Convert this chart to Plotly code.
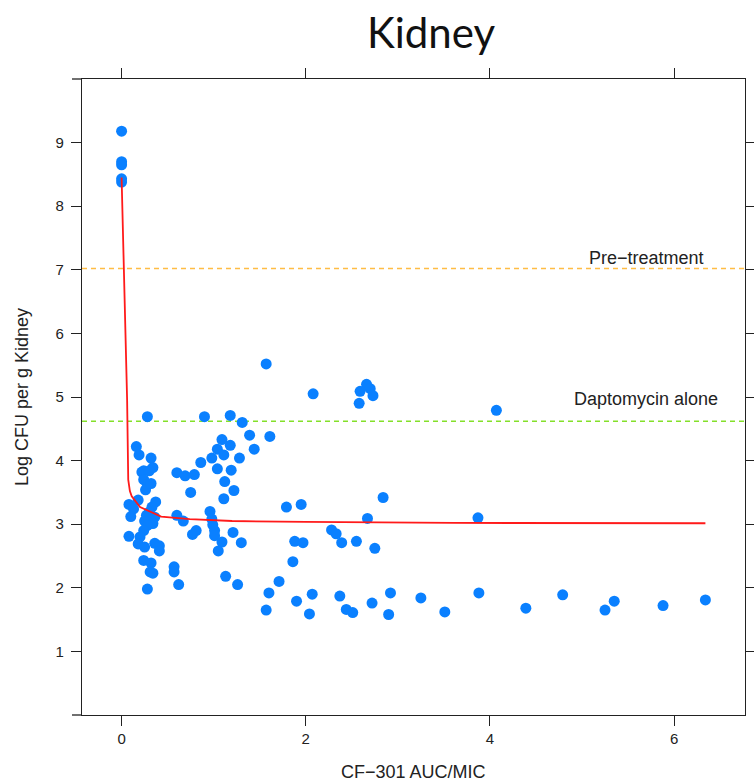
import plotly.graph_objects as go

# Observed kidney burden vs CF-301 exposure
auc_mic = [
    0, 0, 0, 0, 0,
    0.28, 0.90, 1.18, 1.31, 1.39, 1.61, 1.44, 1.09, 1.18, 1.04, 1.11, 0.98, 1.28,
    0.86, 1.04, 1.19, 0.60, 0.69, 0.79, 1.12, 0.75, 1.22, 1.11,
    0.16, 0.19, 0.32, 0.34, 0.24, 0.22, 0.30, 0.24, 0.28, 0.26, 0.32,
    0.18, 0.08, 0.13, 0.10, 0.37, 0.33, 0.30, 0.27, 0.36, 0.31, 0.25, 0.34, 0.28,
    0.24, 0.08, 0.20, 0.18, 0.25, 0.36, 0.41, 0.41, 0.24, 0.32, 0.31, 0.34, 0.28,
    0.57, 0.57, 0.62,
    0.60, 0.67, 0.96, 0.98, 0.99, 1.01, 1.01, 0.77, 0.81, 1.09, 1.05, 1.21, 1.30,
    1.13, 1.26,
    1.79, 1.71, 1.60, 1.57, 1.57, 2.08, 2.66, 2.70, 2.73, 2.59, 2.58, 1.95, 2.84,
    2.67, 2.28, 2.33, 2.39, 2.55, 2.75, 1.88, 1.97, 1.86, 1.90, 2.07, 2.04, 2.37,
    2.44, 2.51, 2.72, 2.92, 2.90, 3.25, 3.51, 4.07, 3.87, 3.88, 4.39, 4.79, 5.25,
    5.35, 5.88, 6.34,
]
log_cfu = [
    9.18, 8.70, 8.65, 8.43, 8.38,
    4.69, 4.69, 4.71, 4.60, 4.40, 4.38, 4.18, 4.33, 4.24, 4.18, 4.09, 4.04, 4.04,
    3.97, 3.87, 3.85, 3.81, 3.76, 3.78, 3.67, 3.50, 3.53, 3.40,
    4.22, 4.09, 4.04, 3.89, 3.84, 3.82, 3.84, 3.70, 3.63, 3.54, 3.64,
    3.38, 3.31, 3.24, 3.12, 3.35, 3.27, 3.19, 3.14, 3.11, 3.07, 3.05, 3.01, 2.98,
    2.90, 2.81, 2.80, 2.69, 2.64, 2.70, 2.66, 2.58, 2.43, 2.39, 2.25, 2.23, 1.98,
    2.33, 2.25, 2.05,
    3.14, 3.05, 3.20, 3.08, 2.99, 2.90, 2.82, 2.84, 2.90, 2.72, 2.58, 2.87, 2.71,
    2.18, 2.05,
    3.27, 2.10, 1.92, 1.65, 5.52, 5.05, 5.20, 5.13, 5.02, 5.09, 4.90, 3.31, 3.42,
    3.09, 2.91, 2.85, 2.71, 2.73, 2.62, 2.73, 2.71, 2.41, 1.79, 1.90, 1.59, 1.87,
    1.66, 1.61, 1.76, 1.92, 1.58, 1.84, 1.62, 4.79, 3.10, 1.92, 1.68, 1.89, 1.65,
    1.79, 1.72, 1.81,
]

# Fitted exposure-response curve
fit_x = [0, 0.03, 0.06, 0.072, 0.09, 0.11, 0.2, 0.43, 0.74, 1.2, 2.0, 3.6, 6.34]
fit_y = [8.45, 6.7, 4.95, 3.7, 3.52, 3.44, 3.27, 3.12, 3.08, 3.05, 3.035, 3.02, 3.015]

# Reference levels and their text labels
ref_labels = ["Pre\u2212treatment", "Daptomycin alone"]
ref_levels = [7.02, 4.62]
ref_label_y = [7.18, 4.97]
ref_colors = ["#FFBD45", "#84E02A"]
ref_label_x = 5.70

x_ticks = [0, 2, 4, 6]
y_ticks = [1, 2, 3, 4, 5, 6, 7, 8, 9]
x_range = [-0.43, 6.77]
y_range = [0, 10]

INK = "#222222"
SANS = "Liberation Sans, Arial"

fig = go.Figure()

for lvl, col in zip(ref_levels, ref_colors):
    fig.add_trace(go.Scatter(
        x=x_range, y=[lvl, lvl], mode="lines",
        line=dict(color=col, width=1.5, dash="5px,4px"),
        hoverinfo="skip", showlegend=False,
    ))

fig.add_trace(go.Scatter(
    x=auc_mic, y=log_cfu, mode="markers",
    marker=dict(color="#0A80FF", size=11, line=dict(width=0)),
    showlegend=False,
))

fig.add_trace(go.Scatter(
    x=fit_x, y=fit_y, mode="lines",
    line=dict(color="#FF1A1A", width=1.8),
    showlegend=False,
))

for lbl, ly in zip(ref_labels, ref_label_y):
    fig.add_annotation(
        x=ref_label_x, y=ly, text=lbl, showarrow=False,
        xanchor="center", yanchor="middle",
        font=dict(family=SANS, size=18, color=INK),
    )

# axis titles
fig.add_annotation(
    xref="paper", yref="paper", x=0.5, y=-57 / 636, text="CF\u2212301 AUC/MIC",
    showarrow=False, xanchor="center", yanchor="middle",
    font=dict(family=SANS, size=18, color=INK),
)
fig.add_annotation(
    xref="paper", yref="paper", x=-60 / 663, y=0.5, text="Log CFU per g Kidney",
    showarrow=False, xanchor="center", yanchor="middle", textangle=-90,
    font=dict(family=SANS, size=18, color=INK),
)

axis_common = dict(
    showgrid=False, zeroline=False, showline=True, linecolor=INK,
    linewidth=1.3, mirror="ticks", ticks="outside", ticklen=10,
    tickwidth=1.3, tickcolor=INK, automargin=False,
    tickfont=dict(family=SANS, size=15, color=INK),
)

fig.update_xaxes(range=x_range, tickvals=x_ticks, **axis_common)
fig.update_yaxes(range=y_range, tickvals=y_ticks, ticklabelstandoff=4, **axis_common)

# short extensions of the horizontal frame lines to the left of the panel
for yp in [0, 1]:
    fig.add_shape(type="line", xref="paper", yref="paper",
                  x0=-10 / 663, x1=0, y0=yp, y1=yp,
                  line=dict(color=INK, width=1.3))

fig.update_layout(
    width=754, height=783,
    margin=dict(l=82, r=9, t=79, b=68),
    paper_bgcolor="white", plot_bgcolor="white",
    title=dict(text="Kidney", x=431 / 754, xanchor="center", y=1 - 33 / 783,
               yanchor="middle",
               font=dict(family="Lato, Carlito, Calibri", size=42, color="#111111")),
)

fig.write_html("out.html")
